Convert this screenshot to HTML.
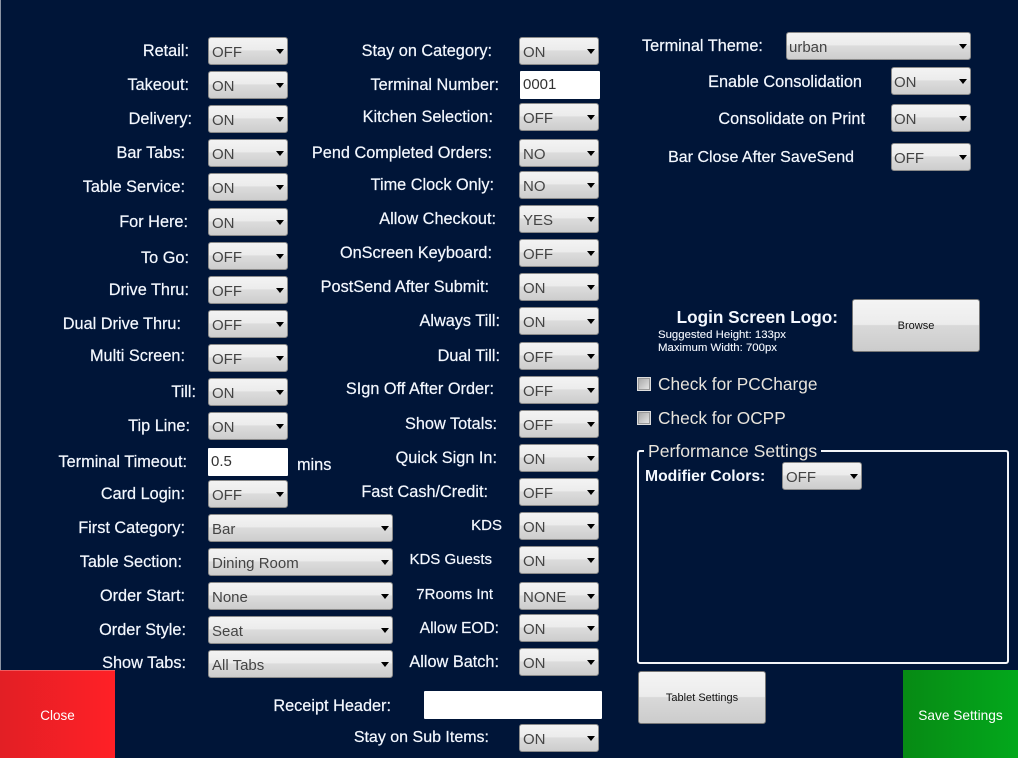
<!DOCTYPE html>
<html><head><meta charset="utf-8"><style>
html,body{margin:0;padding:0;background:#001538}
#p{position:relative;width:1018px;height:758px;overflow:hidden;background:#001538;font-family:"Liberation Sans",sans-serif}
#p:before{content:"";position:absolute;left:0;top:0;width:1px;height:670px;background:#8a93a3}
.l{position:absolute;color:#f4f8ff;font-size:16.3px;line-height:20px;height:20px;white-space:nowrap;margin-top:-10px;font-weight:400;-webkit-text-stroke:.2px #f4f8ff}
.s{position:absolute;box-sizing:border-box;width:80px;height:28px;border:1px solid #8a8a8a;border-radius:3px;background:linear-gradient(#f3f3f3,#ececec 45%,#dcdcdc 50%,#cdcdcd);color:#444;font-size:15px;line-height:29px;padding-left:3px;white-space:nowrap}
.s:after{content:"";position:absolute;right:3px;top:11px;border:4px solid transparent;border-top:5px solid #000;border-bottom:0}
.i{position:absolute;box-sizing:border-box;background:#fff;color:#333;font-size:15px;line-height:28px;height:28px;width:80px;padding-left:3px;border-radius:1px}
.b{position:absolute;box-sizing:border-box;width:128px;height:53px;border:1px solid #777;border-radius:3px;background:linear-gradient(#f4f4f4,#ececec 48%,#d9d9d9 50%,#cccccc);color:#111;font-size:11px;text-align:center;line-height:53px}
.c{position:absolute;width:10px;height:10px;border:1px solid #999;background:linear-gradient(135deg,#aaa,#e4e4e4);outline:1px solid #ddd}
</style></head><body><div id="p">
<div class="l" style="right:829px;top:51px">Retail:</div>
<div class="l" style="right:829px;top:85px">Takeout:</div>
<div class="l" style="right:826px;top:119px">Delivery:</div>
<div class="l" style="right:833px;top:153px">Bar Tabs:</div>
<div class="l" style="right:833px;top:187px">Table Service:</div>
<div class="l" style="right:830px;top:222px">For Here:</div>
<div class="l" style="right:829px;top:258px">To Go:</div>
<div class="l" style="right:829px;top:290px">Drive Thru:</div>
<div class="l" style="right:837px;top:324px">Dual Drive Thru:</div>
<div class="l" style="right:833px;top:356px">Multi Screen:</div>
<div class="l" style="right:822px;top:392px">Till:</div>
<div class="l" style="right:828px;top:426px">Tip Line:</div>
<div class="l" style="right:831px;top:462px">Terminal Timeout:</div>
<div class="l" style="right:833px;top:494px">Card Login:</div>
<div class="l" style="right:833px;top:528px">First Category:</div>
<div class="l" style="right:836px;top:562px">Table Section:</div>
<div class="l" style="right:833px;top:596px">Order Start:</div>
<div class="l" style="right:832px;top:630px">Order Style:</div>
<div class="l" style="right:832px;top:663px">Show Tabs:</div>
<div class="l" style="left:297px;top:465px">mins</div>

<div class="s" style="left:208px;top:37px">OFF</div>
<div class="s" style="left:208px;top:71px">ON</div>
<div class="s" style="left:208px;top:105px">ON</div>
<div class="s" style="left:208px;top:139px">ON</div>
<div class="s" style="left:208px;top:173px">ON</div>
<div class="s" style="left:208px;top:208px">ON</div>
<div class="s" style="left:208px;top:242px">OFF</div>
<div class="s" style="left:208px;top:276px">OFF</div>
<div class="s" style="left:208px;top:310px">OFF</div>
<div class="s" style="left:208px;top:344px">OFF</div>
<div class="s" style="left:208px;top:378px">ON</div>
<div class="s" style="left:208px;top:412px">ON</div>
<div class="i" style="left:208px;top:448px">0.5</div>
<div class="s" style="left:208px;top:480px">OFF</div>
<div class="s" style="left:208px;top:514px;width:185px">Bar</div>
<div class="s" style="left:208px;top:548px;width:185px">Dining Room</div>
<div class="s" style="left:208px;top:582px;width:185px">None</div>
<div class="s" style="left:208px;top:616px;width:185px">Seat</div>
<div class="s" style="left:208px;top:650px;width:185px">All Tabs</div>

<div class="l" style="right:526px;top:51px">Stay on Category:</div>
<div class="l" style="right:519px;top:85px">Terminal Number:</div>
<div class="l" style="right:525px;top:117px">Kitchen Selection:</div>
<div class="l" style="right:526px;top:153px">Pend Completed Orders:</div>
<div class="l" style="right:524px;top:185px">Time Clock Only:</div>
<div class="l" style="right:522px;top:219px">Allow Checkout:</div>
<div class="l" style="right:526px;top:253px">OnScreen Keyboard:</div>
<div class="l" style="right:529px;top:287px">PostSend After Submit:</div>
<div class="l" style="right:518px;top:321px">Always Till:</div>
<div class="l" style="right:518px;top:356px">Dual Till:</div>
<div class="l" style="right:524px;top:389px">SIgn Off After Order:</div>
<div class="l" style="right:521px;top:424px">Show Totals:</div>
<div class="l" style="right:521px;top:458px">Quick Sign In:</div>
<div class="l" style="right:530px;top:492px">Fast Cash/Credit:</div>
<div class="l" style="right:516px;top:526px;font-size:15px">KDS</div>
<div class="l" style="right:526px;top:560px;font-size:15px">KDS Guests</div>
<div class="l" style="right:525px;top:595px;font-size:15px">7Rooms Int</div>
<div class="l" style="right:519px;top:629px;font-size:15.5px">Allow EOD:</div>
<div class="l" style="right:519px;top:662px">Allow Batch:</div>
<div class="l" style="right:627px;top:706px">Receipt Header:</div>
<div class="l" style="right:529px;top:738px;font-size:16px">Stay on Sub Items:</div>

<div class="s" style="left:519px;top:37px">ON</div>
<div class="i" style="left:520px;top:71px">0001</div>
<div class="s" style="left:519px;top:103px">OFF</div>
<div class="s" style="left:519px;top:139px">NO</div>
<div class="s" style="left:519px;top:171px">NO</div>
<div class="s" style="left:519px;top:205px">YES</div>
<div class="s" style="left:519px;top:239px">OFF</div>
<div class="s" style="left:519px;top:273px">ON</div>
<div class="s" style="left:519px;top:307px">ON</div>
<div class="s" style="left:519px;top:342px">OFF</div>
<div class="s" style="left:519px;top:376px">OFF</div>
<div class="s" style="left:519px;top:410px">OFF</div>
<div class="s" style="left:519px;top:444px">ON</div>
<div class="s" style="left:519px;top:478px">OFF</div>
<div class="s" style="left:519px;top:512px">ON</div>
<div class="s" style="left:519px;top:546px">ON</div>
<div class="s" style="left:519px;top:582px">NONE</div>
<div class="s" style="left:519px;top:614px">ON</div>
<div class="s" style="left:519px;top:648px">ON</div>
<div class="i" style="left:424px;top:691px;width:178px">&nbsp;</div>
<div class="s" style="left:519px;top:724px">ON</div>

<div class="l" style="left:642px;top:46px">Terminal Theme:</div>
<div class="s" style="left:786px;top:32px;width:185px;padding-left:2px">urban</div>
<div class="l" style="right:156px;top:82px">Enable Consolidation</div>
<div class="s" style="left:891px;top:67px;padding-left:2px">ON</div>
<div class="l" style="right:153px;top:119px">Consolidate on Print</div>
<div class="s" style="left:891px;top:104px;padding-left:2px">ON</div>
<div class="l" style="right:164px;top:158px;font-size:16px">Bar Close After SaveSend</div>
<div class="s" style="left:891px;top:143px;padding-left:2px">OFF</div>

<div class="l" style="right:180px;top:317px;font-size:17.2px;font-weight:700;-webkit-text-stroke:0">Login Screen Logo:</div>
<div class="l" style="left:658px;top:335px;font-size:11.4px;-webkit-text-stroke:.1px #f4f8ff">Suggested Height: 133px</div>
<div class="l" style="left:658px;top:348px;font-size:11.4px;-webkit-text-stroke:.1px #f4f8ff">Maximum Width: 700px</div>
<div class="b" style="left:852px;top:299px">Browse</div>

<div class="c" style="left:638px;top:378px"></div>
<div class="l" style="left:658px;top:384px;font-size:17.3px;color:#e8e4dc;-webkit-text-stroke:0">Check for PCCharge</div>
<div class="c" style="left:638px;top:412px"></div>
<div class="l" style="left:658px;top:418px;font-size:17.3px;color:#e8e4dc;-webkit-text-stroke:0">Check for OCPP</div>

<div style="position:absolute;box-sizing:border-box;left:637px;top:450px;width:372px;height:214px;border:2px solid #f2f4f8;border-radius:3px"></div>
<div class="l" style="left:644px;top:451px;padding:0 4px;background:#001538;font-size:17.6px;color:#e8e4dc;-webkit-text-stroke:0">Performance Settings</div>
<div class="l" style="left:645px;top:477px;font-size:15.7px;font-weight:700;-webkit-text-stroke:0">Modifier Colors:</div>
<div class="s" style="left:782px;top:462px">OFF</div>

<div class="b" style="left:638px;top:671px">Tablet Settings</div>

<div style="position:absolute;left:0;top:670px;width:115px;height:88px;background:linear-gradient(90deg,#e21f25,#ff2026);box-shadow:inset 0 1px 0 #f05a5e;color:#fff;font-size:13.5px;line-height:91px;text-align:center">Close</div>
<div style="position:absolute;left:903px;top:670px;width:115px;height:88px;background:linear-gradient(90deg,#078a14,#03a81c);color:#fff;font-size:13.7px;line-height:91px;text-align:center">Save Settings</div>
</div></body></html>
